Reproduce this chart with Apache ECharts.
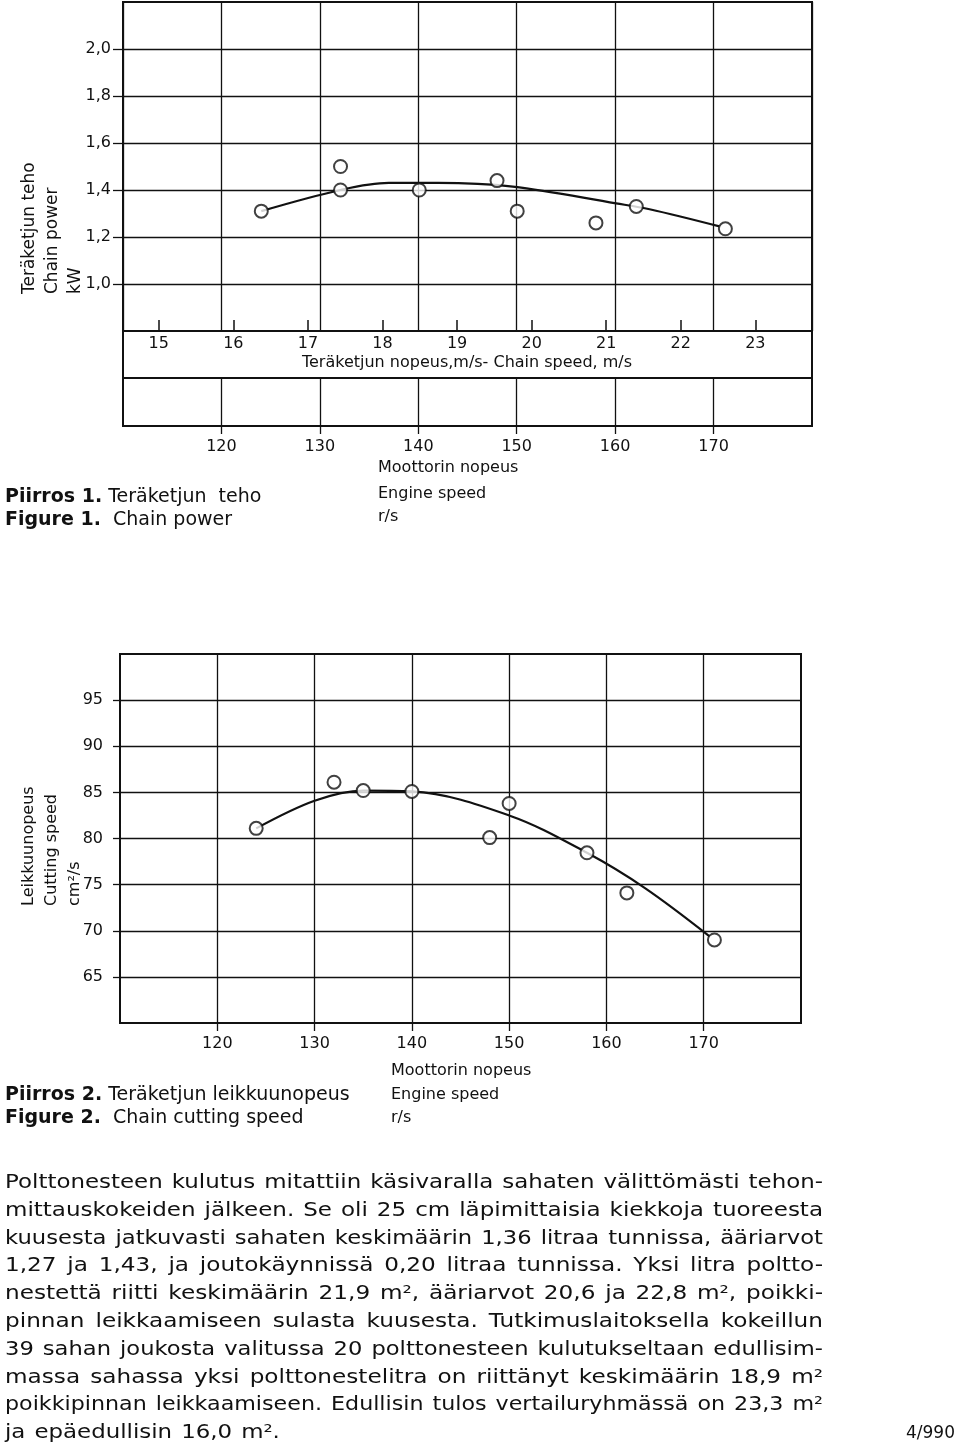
<!DOCTYPE html>
<html><head><meta charset="utf-8">
<script src="https://cdn.jsdelivr.net/npm/echarts@6/dist/echarts.min.js"></script>
<style>html,body{margin:0;padding:0;background:#fff}#c{width:960px;height:1454px}</style>
</head><body><div id="c"></div>
<script>
// ---- data ----
const engineTicks = [120, 130, 140, 150, 160, 170];
const chainSpeedTicks = [15, 16, 17, 18, 19, 20, 21, 22, 23];
const powerTicks = [1.0, 1.2, 1.4, 1.6, 1.8, 2.0];
const cuttingTicks = [65, 70, 75, 80, 85, 90, 95];

const powerEngine = [124.05, 132.1, 132.1, 140.1, 148.0, 150.05, 158.05, 162.15, 171.2];
const powerValues = [1.31, 1.50, 1.40, 1.40, 1.44, 1.31, 1.26, 1.33, 1.235];
const powerCurveEngine = [124.05, 132.1, 137, 142, 149.6, 160.1, 163.5, 170.6];
const powerCurveValues = [1.31, 1.40, 1.43, 1.43, 1.414, 1.343, 1.318, 1.245];

const cuttingEngine = [124, 132, 135, 140, 148, 150, 158, 162.1, 171.1];
const cuttingValues = [81.1, 86.1, 85.2, 85.1, 80.1, 83.8, 78.45, 74.1, 69.0];
const cuttingCurveEngine = [124, 130, 135, 140, 150, 158, 164, 170.6];
const cuttingCurveValues = [81.1, 84.1, 85.2, 85.1, 82.5, 78.45, 74.6, 69.4];

const chainSpeedPerEngineSpeed = 0.132; // m/s per r/s
const engineMin = 110, engineMax = 180;

const paragraphLines = [
  "Polttonesteen kulutus mitattiin käsivaralla sahaten välittömästi tehon-",
  "mittauskokeiden jälkeen. Se oli 25 cm läpimittaisia kiekkoja tuoreesta",
  "kuusesta jatkuvasti sahaten keskimäärin 1,36 litraa tunnissa, ääriarvot",
  "1,27 ja 1,43, ja joutokäynnissä 0,20 litraa tunnissa. Yksi litra poltto-",
  "nestettä riitti keskimäärin 21,9 m², ääriarvot 20,6 ja 22,8 m², poikki-",
  "pinnan leikkaamiseen sulasta kuusesta. Tutkimuslaitoksella kokeillun",
  "39 sahan joukosta valitussa 20 polttonesteen kulutukseltaan edullisim-",
  "massa sahassa yksi polttonestelitra on riittänyt keskimäärin 18,9 m²",
  "poikkipinnan leikkaamiseen. Edullisin tulos vertailuryhmässä on 23,3 m²",
  "ja epäedullisin 16,0 m²."
];

// ---- build ----
const FONT = 'DejaVu Sans';
const INK = '#111';
const zip = (a, b) => a.map((v, i) => [v, b[i]]);
const labelStyle = { color: INK, fontFamily: FONT, fontSize: 16 };
const gridLine = { show: true, lineStyle: { color: INK, width: 1.3, type: 'solid' } };
const frame = { show: true, borderColor: INK, borderWidth: 2, backgroundColor: 'transparent' };
const markerStyle = { color: '#fff', borderColor: INK, borderWidth: 2 };

function texts() {
  const g = [];
  const t = (x, y, text, opts = {}) => g.push({
    type: 'text', x, y, rotation: opts.rotation || 0, scaleX: opts.scaleX || 1, silent: true,
    style: Object.assign({
      text, fill: INK, fontFamily: FONT, fontSize: 16,
      textAlign: 'left', textVerticalAlign: 'middle'
    }, opts.style || {})
  });
  // Figure 1 axis title (rotated)
  t(18, 294, 'Teräketjun teho\nChain power\nkW', { rotation: Math.PI / 2, style: { fontSize: 17, lineHeight: 23, textVerticalAlign: 'top' } });
  t(467, 363, 'Teräketjun nopeus,m/s- Chain speed, m/s', { style: { textAlign: 'center' } });
  t(378, 468, 'Moottorin nopeus');
  t(378, 494, 'Engine speed');
  t(378, 517, 'r/s');
  const cap = { fontSize: 19, rich: { b: { fontWeight: 'bold', fontSize: 19, fontFamily: FONT, fill: INK }, n: { fontSize: 19, fontFamily: FONT, fill: INK } } };
  t(5, 497, '{b|Piirros 1.}{n| Teräketjun  teho}', { style: cap });
  t(5, 520, '{b|Figure 1.}{n|  Chain power}', { style: cap });
  // Figure 2
  t(17, 906, 'Leikkuunopeus\nCutting speed\ncm²/s', { rotation: Math.PI / 2, style: { fontSize: 16, lineHeight: 23, textVerticalAlign: 'top' } });
  t(391, 1071, 'Moottorin nopeus');
  t(391, 1095, 'Engine speed');
  t(391, 1118, 'r/s');
  t(5, 1095, '{b|Piirros 2.}{n| Teräketjun leikkuunopeus}', { style: cap });
  t(5, 1118, '{b|Figure 2.}{n|  Chain cutting speed}', { style: cap });
  // paragraph, justified word by word
  const ctx = document.createElement('canvas').getContext('2d');
  const pSize = 19;
  ctx.font = pSize + 'px "' + FONT + '"';
  const left = 5, right = 823, normalGap = 9;
  const target = right - left;
  const measured = paragraphLines.map(line => {
    const words = line.split(' ');
    const widths = words.map(w => ctx.measureText(w).width);
    const sum = widths.reduce((a, b) => a + b, 0);
    let s = (target - normalGap * (words.length - 1)) / sum;
    s = Math.max(1.0, Math.min(1.22, s));
    return { words, widths, sum, s };
  });
  const full = measured.slice(0, -1);
  const meanS = full.reduce((a, m) => a + m.s, 0) / full.length;
  measured.forEach((m, i) => {
    const y = 1183 + i * 27.8;
    const last = i === measured.length - 1;
    const s = last ? meanS : m.s;
    const gap = last ? normalGap : (target - s * m.sum) / (m.words.length - 1);
    let x = left;
    m.words.forEach((w, j) => {
      t(x, y, w, { scaleX: s, style: { fontSize: pSize } });
      x += m.widths[j] * s + gap;
    });
  });
  t(955, 1434, '4/990', { style: { fontSize: 17, textAlign: 'right' } });
  return g;
}

const k = chainSpeedPerEngineSpeed;
const option = {
  backgroundColor: '#fff',
  animation: false,
  textStyle: { fontFamily: FONT },
  grid: [
    Object.assign({ left: 123, top: 2, width: 689, height: 329 }, frame),
    Object.assign({ left: 123, top: 331, width: 689, height: 47 }, frame),
    Object.assign({ left: 123, top: 378, width: 689, height: 48 }, frame),
    Object.assign({ left: 120, top: 654, width: 681, height: 369 }, frame)
  ],
  xAxis: [
    { gridIndex: 0, type: 'value', min: engineMin, max: engineMax, interval: 10,
      axisLine: { show: false, onZero: false }, axisTick: { show: false }, axisLabel: { show: false }, splitLine: gridLine },
    { gridIndex: 1, type: 'value', min: engineMin * k, max: engineMax * k, position: 'top',
      axisLine: { show: false, onZero: false },
      axisTick: { show: true, customValues: chainSpeedTicks, length: 11, inside: false, lineStyle: { color: INK, width: 1.5 } },
      axisLabel: Object.assign({ customValues: chainSpeedTicks, inside: true, margin: 5, formatter: v => String(Math.round(v)) }, labelStyle),
      splitLine: { show: false } },
    { gridIndex: 2, type: 'value', min: engineMin, max: engineMax, interval: 10, position: 'bottom',
      axisLine: { show: false, onZero: false },
      axisTick: { show: true, customValues: engineTicks, length: 8, lineStyle: { color: INK, width: 1.3 } },
      axisLabel: Object.assign({ customValues: engineTicks, margin: 13 }, labelStyle),
      splitLine: gridLine },
    { gridIndex: 3, type: 'value', min: engineMin, max: engineMax, interval: 10, position: 'bottom',
      axisLine: { show: false, onZero: false },
      axisTick: { show: true, customValues: engineTicks, length: 8, lineStyle: { color: INK, width: 1.3 } },
      axisLabel: Object.assign({ customValues: engineTicks, margin: 13 }, labelStyle),
      splitLine: gridLine }
  ],
  yAxis: [
    { gridIndex: 0, type: 'value', min: 0.8, max: 2.2, interval: 0.2,
      axisLine: { show: false, onZero: false },
      axisTick: { show: true, customValues: powerTicks, length: 10, lineStyle: { color: INK, width: 1.3 } },
      axisLabel: Object.assign({ customValues: powerTicks, margin: 12, formatter: v => v.toFixed(1).replace('.', ',') }, labelStyle),
      splitLine: gridLine },
    { gridIndex: 1, type: 'value', min: 0, max: 1, show: false },
    { gridIndex: 2, type: 'value', min: 0, max: 1, show: false },
    { gridIndex: 3, type: 'value', min: 60, max: 100, interval: 5,
      axisLine: { show: false, onZero: false },
      axisTick: { show: true, customValues: cuttingTicks, length: 7, lineStyle: { color: INK, width: 1.3 } },
      axisLabel: Object.assign({ customValues: cuttingTicks, margin: 17 }, labelStyle),
      splitLine: gridLine }
  ],
  series: [
    { type: 'line', xAxisIndex: 0, yAxisIndex: 0, data: zip(powerCurveEngine, powerCurveValues), smooth: 0.35,
      showSymbol: false, silent: true, z: 2, lineStyle: { color: INK, width: 2.2 } },
    { type: 'scatter', xAxisIndex: 0, yAxisIndex: 0, data: zip(powerEngine, powerValues), symbol: 'circle',
      symbolSize: 13, silent: true, z: 3, itemStyle: markerStyle },
    { type: 'line', xAxisIndex: 3, yAxisIndex: 3, data: zip(cuttingCurveEngine, cuttingCurveValues), smooth: 0.35,
      showSymbol: false, silent: true, z: 2, lineStyle: { color: INK, width: 2.2 } },
    { type: 'scatter', xAxisIndex: 3, yAxisIndex: 3, data: zip(cuttingEngine, cuttingValues), symbol: 'circle',
      symbolSize: 13, silent: true, z: 3, itemStyle: markerStyle }
  ],
  graphic: texts()
};

const chart = echarts.init(document.getElementById('c'), null, { renderer: 'canvas' });
chart.setOption(option);
</script>
</body></html>
